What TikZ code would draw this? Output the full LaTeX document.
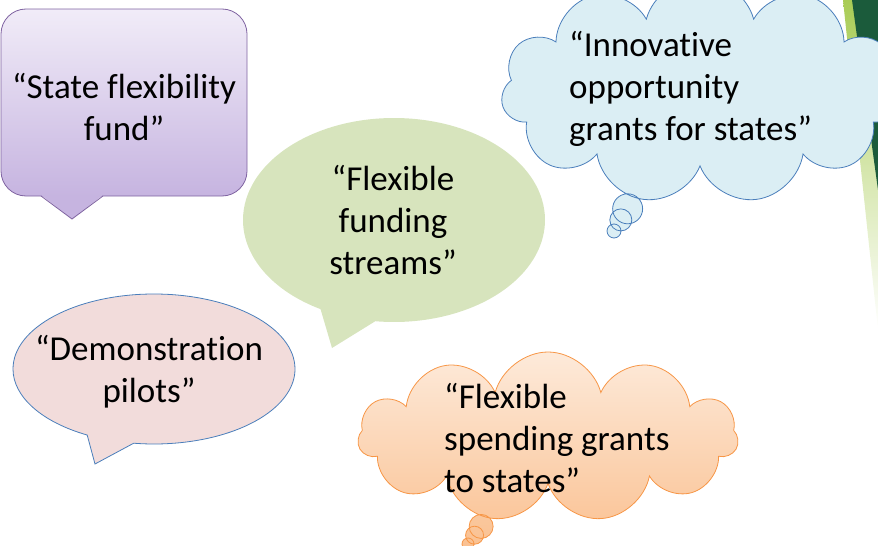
\documentclass[tikz,border=0pt]{standalone}
\usepackage{fontspec}
\setmainfont[Ligatures=NoCommon]{Carlito}
\usetikzlibrary{shapes.callouts,shapes.symbols}

\definecolor{lilactop}{HTML}{F1ECF8}
\definecolor{lilacbot}{HTML}{C6B4E0}
\definecolor{lilacline}{HTML}{7F63A1}
\definecolor{sage}{HTML}{D7E4BD}
\definecolor{sky}{HTML}{DBEEF4}
\definecolor{skyline}{HTML}{4A7EBB}
\definecolor{blush}{HTML}{F2DCDB}
\definecolor{peachtop}{HTML}{FDEADA}
\definecolor{peachbot}{HTML}{FAC090}
\definecolor{peachline}{HTML}{F79646}
\definecolor{leaf}{HTML}{A9CC55}
\definecolor{forest}{HTML}{1B5B3B}

\begin{document}
\begin{tikzpicture}[x=1pt,y=-1pt,
		quote/.style={font=\fontsize{35}{42}\selectfont, inner sep=0pt},
		speech/.style={ellipse callout, inner sep=0pt, line width=0.8pt},
		thought/.style={cloud callout, cloud puffs=11, cloud ignores aspect, callout pointer segments=3, inner sep=0pt, line width=0.8pt}]
	\useasboundingbox (0,0) rectangle (878,546);
	\clip (0,0) rectangle (878,546);
	% corner strip
	\shade[top color=leaf, bottom color=white] (843,0) -- (878,0) -- (878,330) -- cycle;
	\fill[forest] (852,0) -- (878,0) -- (878,190) -- cycle;
	% rounded box
	\shade[top color=lilactop, bottom color=lilacbot, draw=lilacline, line width=0.8pt, rounded corners=25pt] (1,9) rectangle (247,196);
	\fill[lilacbot] (41,195) -- (72,219) -- (103,195) -- cycle;
	\draw[lilacline, line width=0.8pt] (41,196) -- (72,219) -- (103,196);
	\node[quote, align=center] (fund) at (124,107) {“State flexibility\\fund”};
	% ovals
	\node[speech, fill=sage, minimum width=302pt, minimum height=204pt, callout absolute pointer={(332,348)}, callout pointer arc=22] (streams) at (394,220) {};
	\node[quote, align=center] (streams-txt) at (393,220) {“Flexible\\funding\\streams”};
	\node[speech, fill=blush, draw=skyline, minimum width=282pt, minimum height=150pt, callout absolute pointer={(95,464)}, callout pointer arc=20] (pilots) at (154,369) {};
	\node[quote, align=center] (pilots-txt) at (149,372) {“Demonstration\\pilots”};
	% clouds
	\node[thought, top color=peachtop, bottom color=peachbot, draw=peachline, minimum width=380pt, minimum height=170pt, callout absolute pointer={(468,544)}, callout pointer start size=30pt and 30pt, callout pointer end size=12pt and 12pt] (spending) at (548,437) {};
	\node[quote, align=left, anchor=west] (spending-txt) at (444,438) {“Flexible\\spending grants\\to states”};
	\node[thought, fill=sky, draw=skyline, minimum width=398pt, minimum height=226pt, callout absolute pointer={(614,231)}, callout pointer start size=38pt and 38pt, callout pointer end size=14pt and 14pt] (grants) at (700,91) {};
	\node[quote, align=left, anchor=west] (grants-txt) at (569,89) {“Innovative\\opportunity\\grants for states”};
\end{tikzpicture}
\end{document}
